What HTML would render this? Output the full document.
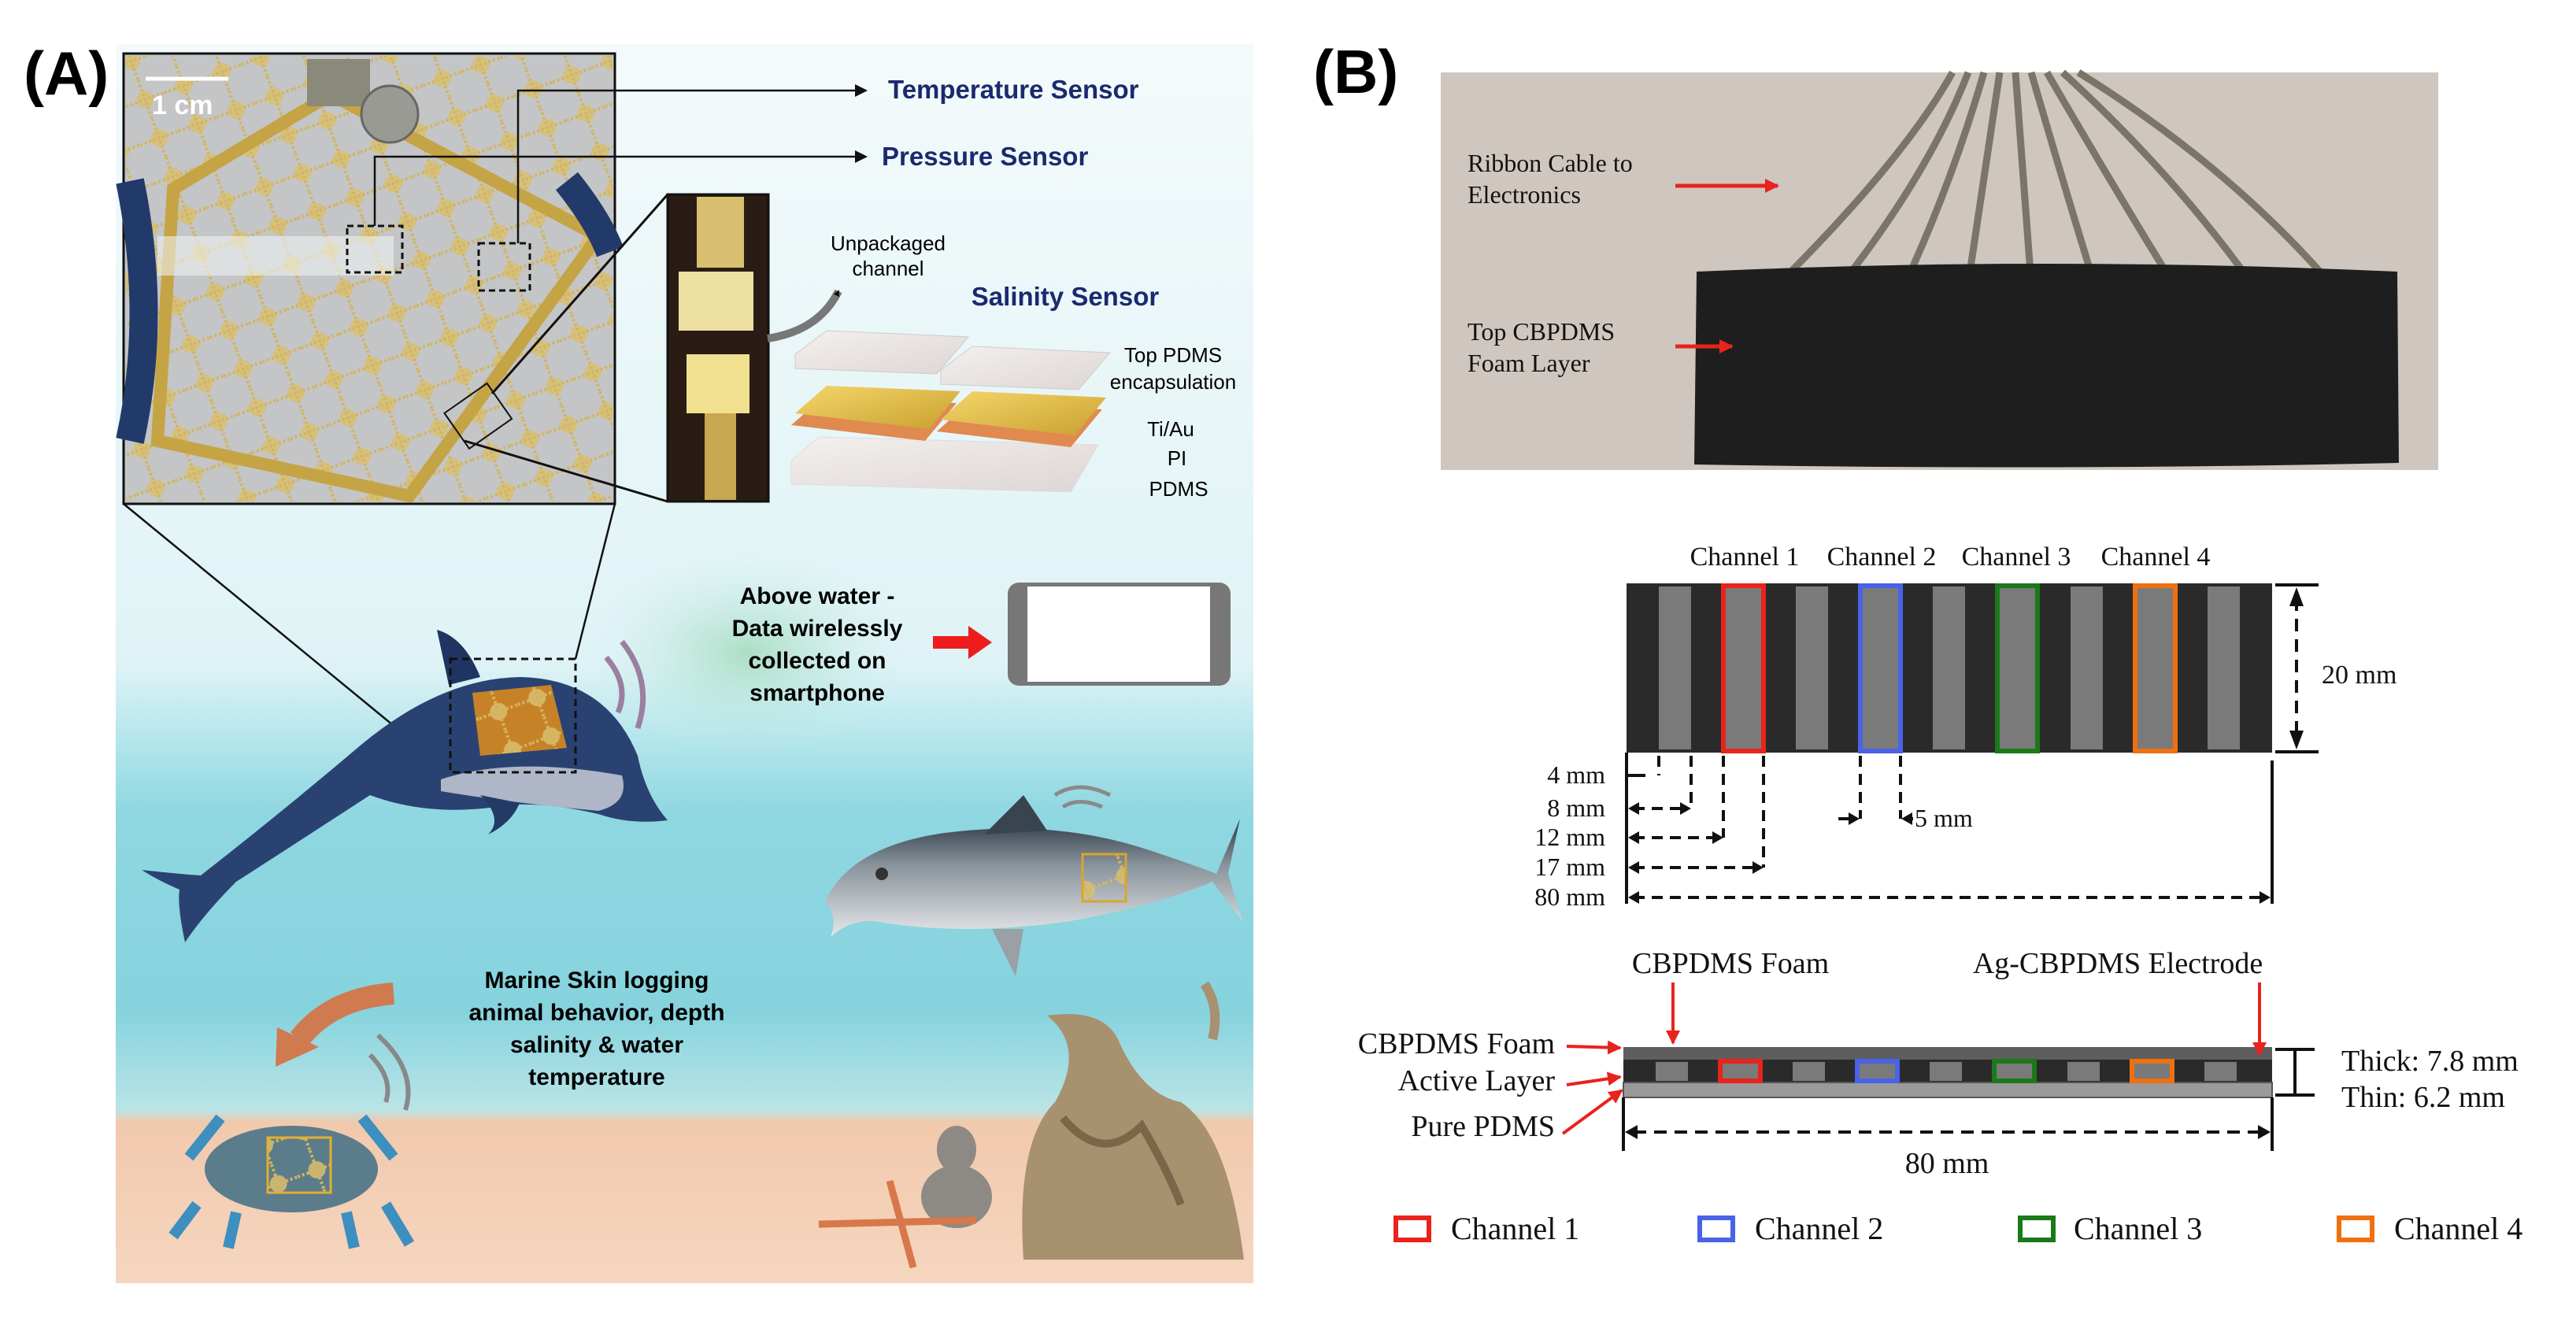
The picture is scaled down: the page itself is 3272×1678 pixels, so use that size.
<!DOCTYPE html>
<html><head><meta charset="utf-8"><style>
html,body{margin:0;padding:0;background:#fff}
svg{display:block}
.s{font-family:"Liberation Serif",serif;fill:#111}
.a{font-family:"Liberation Sans",sans-serif}
</style></head><body>
<svg width="3272" height="1678" viewBox="0 0 3272 1678" xmlns="http://www.w3.org/2000/svg">
<defs>
<linearGradient id="sky" x1="0" y1="0" x2="0" y2="1">
<stop offset="0" stop-color="#f4fafb"/><stop offset="0.5" stop-color="#dff3f6"/><stop offset="0.56" stop-color="#b5e6ec"/><stop offset="0.62" stop-color="#8fd7e1"/><stop offset="0.78" stop-color="#86d3de"/><stop offset="0.86" stop-color="#b9e4e6"/><stop offset="0.87" stop-color="#f1c9ad"/><stop offset="1" stop-color="#f6d6c0"/>
</linearGradient>
<linearGradient id="pdms" x1="0" y1="0" x2="1" y2="1"><stop offset="0" stop-color="#f4f0ee"/><stop offset="1" stop-color="#dcd6d4"/></linearGradient>
<linearGradient id="gold" x1="0" y1="0" x2="1" y2="1"><stop offset="0" stop-color="#f5d66a"/><stop offset="1" stop-color="#c9a030"/></linearGradient>
<linearGradient id="tuna" x1="0" y1="0" x2="0" y2="1"><stop offset="0" stop-color="#2d3844"/><stop offset="0.4" stop-color="#8a949c"/><stop offset="1" stop-color="#e6e8ea"/></linearGradient>
<pattern id="grid" width="52" height="52" patternUnits="userSpaceOnUse" patternTransform="rotate(-20)">
<rect width="52" height="52" fill="none"/><circle cx="26" cy="26" r="11" fill="#d9c070" opacity="0.85"/><path d="M0 26H52M26 0V52" stroke="#d2b560" stroke-width="4" stroke-dasharray="3 3"/></pattern>
<radialGradient id="glow" cx="0.5" cy="0.5" r="0.5"><stop offset="0" stop-color="#9ed9b8" stop-opacity="0.8"/><stop offset="1" stop-color="#c8ecea" stop-opacity="0"/></radialGradient>
<marker id="ah" markerWidth="8" markerHeight="8" refX="6" refY="4" orient="auto" markerUnits="userSpaceOnUse"><path d="M0 0L8 4L0 8Z" fill="#111"/></marker>
<marker id="ahb" markerWidth="16" markerHeight="16" refX="14" refY="8" orient="auto" markerUnits="userSpaceOnUse"><path d="M0 0L16 8L0 16Z" fill="#111"/></marker>
<marker id="ahr" markerWidth="18" markerHeight="18" refX="16" refY="9" orient="auto" markerUnits="userSpaceOnUse"><path d="M0 0L18 9L0 18Z" fill="#e8231c"/></marker>
</defs>

<!-- PANEL A -->
<rect x="147" y="56" width="1445" height="1574" fill="url(#sky)"/>
<ellipse cx="950" cy="830" rx="200" ry="130" fill="url(#glow)"/>
<text x="30" y="120" class="a" font-size="78" font-weight="bold">(A)</text>

<!-- photo inset -->
<rect x="157" y="68" width="624" height="572" fill="#c4c5c7" stroke="#111" stroke-width="3"/>
<rect x="160" y="71" width="618" height="566" fill="url(#grid)"/>
<path d="M220 240 L420 120 L760 300 L520 630 L200 560 Z" fill="none" stroke="#c5a445" stroke-width="16"/>
<path d="M165 230 Q200 400 165 560" stroke="#223a6a" stroke-width="36" fill="none"/>
<path d="M720 230 Q760 280 775 320" stroke="#223a6a" stroke-width="36" fill="none"/>
<rect x="390" y="75" width="80" height="60" fill="#8a8a7a"/><circle cx="495" cy="145" r="36" fill="#9a9a95" stroke="#666" stroke-width="3"/>
<rect x="200" y="300" width="300" height="50" fill="#eef2f2" opacity="0.6"/>
<line x1="185" y1="100" x2="290" y2="100" stroke="#fff" stroke-width="5"/>
<text x="193" y="145" class="a" font-size="34" font-weight="bold" fill="#fff">1 cm</text>
<rect x="441" y="287" width="70" height="59" fill="none" stroke="#111" stroke-width="3" stroke-dasharray="8 5"/>
<rect x="608" y="309" width="65" height="60" fill="none" stroke="#111" stroke-width="3" stroke-dasharray="8 5"/>
<rect x="574" y="501" width="66" height="55" fill="none" stroke="#111" stroke-width="2" transform="rotate(-35 607 528)"/>
<polyline points="476,287 476,199 1100,199" fill="none" stroke="#111" stroke-width="2.5" marker-end="url(#ahb)"/>
<polyline points="658,309 658,115 1100,115" fill="none" stroke="#111" stroke-width="2.5" marker-end="url(#ahb)"/>
<text x="1128" y="125" class="a" font-size="33" font-weight="bold" fill="#1a2a6e">Temperature Sensor</text>
<text x="1120" y="210" class="a" font-size="33" font-weight="bold" fill="#1a2a6e">Pressure Sensor</text>

<!-- strip inset -->
<line x1="590" y1="560" x2="848" y2="637" stroke="#111" stroke-width="3"/>
<line x1="625" y1="500" x2="848" y2="247" stroke="#111" stroke-width="3"/>
<rect x="848" y="247" width="128" height="390" fill="#2a1c14" stroke="#111" stroke-width="3"/>
<rect x="885" y="250" width="60" height="90" fill="#d8c070"/>
<rect x="862" y="345" width="95" height="75" fill="#ede0a0"/>
<rect x="872" y="450" width="80" height="75" fill="#f0e090"/>
<rect x="895" y="525" width="40" height="110" fill="#c8a850"/>
<path d="M975 430 Q1040 420 1065 370" stroke="#777" stroke-width="10" fill="none" marker-end="url(#ah)"/>
<text x="1128" y="318" class="a" font-size="26" text-anchor="middle">Unpackaged</text>
<text x="1128" y="350" class="a" font-size="26" text-anchor="middle">channel</text>
<text x="1353" y="388" class="a" font-size="33" font-weight="bold" fill="#1a2a6e" text-anchor="middle">Salinity Sensor</text>
<path d="M1005 585 L1040 555 L1395 565 L1360 625 L1005 615 Z" fill="url(#pdms)" stroke="#ddd"/>
<path d="M1005 540 L1045 505 L1215 512 L1175 560 Z" fill="#e08a50"/>
<path d="M1010 525 L1050 490 L1220 497 L1180 545 Z" fill="url(#gold)"/>
<path d="M1190 548 L1230 512 L1400 520 L1360 568 Z" fill="#e08a50"/>
<path d="M1195 533 L1235 497 L1405 505 L1365 553 Z" fill="url(#gold)"/>
<path d="M1010 450 L1050 420 L1230 428 L1190 475 L1010 468 Z" fill="url(#pdms)" stroke="#ccc"/>
<path d="M1195 470 L1235 440 L1410 448 L1370 495 L1195 488 Z" fill="url(#pdms)" stroke="#ccc"/>
<text x="1490" y="460" class="a" font-size="26" text-anchor="middle">Top PDMS</text>
<text x="1490" y="494" class="a" font-size="26" text-anchor="middle">encapsulation</text>
<text x="1487" y="554" class="a" font-size="26" text-anchor="middle">Ti/Au</text>
<text x="1495" y="591" class="a" font-size="26" text-anchor="middle">PI</text>
<text x="1497" y="630" class="a" font-size="26" text-anchor="middle">PDMS</text>

<!-- dolphin -->
<line x1="157" y1="640" x2="572" y2="981" stroke="#111" stroke-width="2.5"/>
<line x1="781" y1="640" x2="731" y2="837" stroke="#111" stroke-width="2.5"/>
<path d="M555 800 Q590 810 610 860 L570 870 Z" fill="#1f3460"/>
<path d="M180 1105 Q225 1110 255 1112 Q360 1030 460 945 Q560 862 660 860 Q770 862 810 960 Q820 1010 848 1042 Q800 1048 760 1034 Q700 1020 650 1022 Q550 1040 470 1010 Q370 1075 300 1120 Q260 1160 235 1197 Q225 1150 228 1130 Q200 1118 180 1105 Z" fill="#2a4272"/>
<path d="M560 990 Q650 960 790 985 Q800 1020 760 1030 Q650 1020 560 1005 Z" fill="#aeb6c8"/>
<path d="M610 1010 Q640 1040 620 1060 Q650 1045 660 1020 Z" fill="#233a66"/>
<path d="M600 880 L700 870 L720 950 L610 960 Z" fill="#d88a20" opacity="0.9"/>
<path d="M600 880 L700 870 L720 950 L610 960 Z" fill="url(#grid)"/>
<rect x="572" y="837" width="159" height="144" fill="none" stroke="#111" stroke-width="3" stroke-dasharray="9 6"/>
<path d="M770 835 Q800 870 785 905 M790 815 Q830 865 810 925" stroke="#9b7fa0" stroke-width="7" fill="none"/>

<g class="a" font-size="30" font-weight="bold" text-anchor="middle">
<text x="1038" y="767">Above water -</text><text x="1038" y="808">Data wirelessly</text><text x="1038" y="849">collected on</text><text x="1038" y="890">smartphone</text>
<text x="758" y="1255">Marine Skin logging</text><text x="758" y="1296">animal behavior, depth</text><text x="758" y="1337">salinity &amp; water</text><text x="758" y="1378">temperature</text>
</g>
<path d="M1185 808 L1230 808 L1230 795 L1260 816 L1230 837 L1230 824 L1185 824 Z" fill="#ee1c1c"/>
<rect x="1280" y="740" width="283" height="131" rx="14" fill="#777"/>
<rect x="1305" y="745" width="232" height="121" fill="#fff"/>

<!-- tuna -->
<path d="M1048 1145 Q1080 1075 1200 1058 Q1340 1040 1460 1080 Q1520 1100 1545 1110 L1575 1040 L1560 1110 L1578 1170 L1540 1120 Q1470 1150 1360 1170 Q1220 1190 1110 1170 Q1080 1168 1055 1190 Q1065 1165 1048 1145 Z" fill="url(#tuna)"/>
<path d="M1250 1060 L1300 1010 L1330 1055 Z" fill="#3a444e"/>
<path d="M1260 1180 L1290 1240 L1300 1180 Z" fill="#9aa0a6"/>
<circle cx="1120" cy="1110" r="8" fill="#333"/>
<rect x="1375" y="1085" width="55" height="60" fill="url(#grid)" stroke="#d9a530" stroke-width="3"/>
<path d="M1340 1010 Q1370 990 1410 1010 M1350 1025 Q1370 1012 1400 1025" stroke="#8a8a8a" stroke-width="5" fill="none"/>

<!-- crab -->
<path d="M500 1262 Q420 1268 380 1320" stroke="#d07a50" stroke-width="28" fill="none"/>
<path d="M350 1355 L352 1305 L405 1330 Z" fill="#d07a50"/>
<ellipse cx="370" cy="1485" rx="110" ry="55" fill="#5b7c8a"/>
<path d="M240 1470 L280 1420 M500 1470 L460 1420 M250 1530 L220 1570 M490 1530 L520 1580 M300 1540 L290 1585 M440 1540 L450 1585" stroke="#3d8fbf" stroke-width="14"/>
<rect x="340" y="1445" width="80" height="70" fill="url(#grid)" stroke="#e0b030" stroke-width="3"/>
<path d="M470 1340 Q500 1370 490 1400 M480 1315 Q530 1360 515 1410" stroke="#888" stroke-width="6" fill="none"/>

<!-- coral / rocks -->
<path d="M1300 1600 Q1290 1450 1340 1400 Q1380 1330 1330 1290 Q1400 1280 1420 1320 Q1450 1390 1500 1400 Q1560 1440 1580 1600 Z" fill="#a8916e"/>
<path d="M1350 1420 Q1400 1480 1450 1430 Q1480 1480 1500 1530" stroke="#7a6648" stroke-width="10" fill="none"/>
<ellipse cx="1215" cy="1460" rx="25" ry="30" fill="#8d8a86"/><ellipse cx="1215" cy="1520" rx="45" ry="40" fill="#8d8a86"/>
<path d="M1040 1555 L1240 1550 M1130 1500 L1160 1610" stroke="#d8774a" stroke-width="9"/>
<path d="M1530 1250 Q1550 1280 1540 1320" stroke="#a89070" stroke-width="12" fill="none"/>

<!-- PANEL B -->
<text x="1668" y="118" class="a" font-size="78" font-weight="bold">(B)</text>
<rect x="1830" y="92" width="1267" height="505" fill="#cfc7bf"/>
<g stroke="#7a7568" stroke-width="9" fill="none">
<path d="M2480 92 Q2420 200 2260 360"/><path d="M2500 92 Q2450 220 2340 360"/><path d="M2520 92 Q2480 230 2420 360"/><path d="M2540 92 Q2520 230 2500 360"/>
<path d="M2560 92 Q2570 230 2580 360"/><path d="M2580 92 Q2620 230 2660 360"/><path d="M2600 92 Q2680 230 2760 360"/><path d="M2620 92 Q2760 220 2860 360"/><path d="M2640 92 Q2830 210 2960 360"/>
</g>
<path d="M2155 345 Q2600 325 3045 345 L3047 588 Q2600 598 2152 590 Z" fill="#1e1e1e"/>
<g class="s" font-size="32">
<text x="1864" y="218">Ribbon Cable to</text><text x="1864" y="258">Electronics</text>
<text x="1864" y="432">Top CBPDMS</text><text x="1864" y="472">Foam Layer</text>
</g>
<line x1="2128" y1="236" x2="2258" y2="236" stroke="#e8231c" stroke-width="5" marker-end="url(#ahr)"/>
<line x1="2128" y1="440" x2="2200" y2="440" stroke="#e8231c" stroke-width="5" marker-end="url(#ahr)"/>

<g class="s" font-size="34" text-anchor="middle">
<text x="2216" y="718">Channel 1</text><text x="2390" y="718">Channel 2</text><text x="2561" y="718">Channel 3</text><text x="2738" y="718">Channel 4</text>
</g>
<rect x="2066" y="741" width="820" height="215" fill="#2a2a2a"/>
<g fill="#7a7a7a">
<rect x="2107" y="745" width="41" height="207"/><rect x="2281" y="745" width="41" height="207"/><rect x="2455" y="745" width="41" height="207"/><rect x="2630" y="745" width="41" height="207"/><rect x="2804" y="745" width="41" height="207"/>
<rect x="2189" y="745" width="51" height="207"/><rect x="2363" y="745" width="51" height="207"/><rect x="2537" y="745" width="51" height="207"/><rect x="2712" y="745" width="51" height="207"/>
</g>
<g fill="none" stroke-width="6">
<rect x="2189" y="744" width="51" height="210" stroke="#e8231c"/><rect x="2363" y="744" width="51" height="210" stroke="#4a62e8"/><rect x="2537" y="744" width="51" height="210" stroke="#1a7a1a"/><rect x="2712" y="744" width="51" height="210" stroke="#f07010"/>
</g>
<g stroke="#111" stroke-width="4">
<line x1="2890" y1="743" x2="2945" y2="743"/><line x1="2890" y1="955" x2="2945" y2="955"/>
<line x1="2917" y1="760" x2="2917" y2="940" stroke-dasharray="16 10"/>
</g>
<path d="M2917 746 L2908 770 L2926 770 Z M2917 952 L2908 928 L2926 928 Z" fill="#111"/>
<text x="2949" y="868" class="s" font-size="34">20 mm</text>

<g class="s" font-size="32" text-anchor="end">
<text x="2039" y="995">4 mm</text><text x="2039" y="1037">8 mm</text><text x="2039" y="1074">12 mm</text><text x="2039" y="1112">17 mm</text><text x="2039" y="1150">80 mm</text>
</g>
<text x="2432" y="1050" class="s" font-size="32">5 mm</text>
<g stroke="#111" stroke-width="4" fill="none">
<line x1="2066" y1="956" x2="2066" y2="1148"/><line x1="2886" y1="966" x2="2886" y2="1148"/>
<line x1="2066" y1="985" x2="2090" y2="985"/>
<g stroke-dasharray="14 9">
<line x1="2107" y1="960" x2="2107" y2="985"/><line x1="2148" y1="960" x2="2148" y2="1027"/><line x1="2189" y1="960" x2="2189" y2="1064"/><line x1="2240" y1="960" x2="2240" y2="1102"/>
<line x1="2363" y1="960" x2="2363" y2="1040"/><line x1="2414" y1="960" x2="2414" y2="1040"/>
<line x1="2075" y1="1027" x2="2140" y2="1027"/><line x1="2075" y1="1064" x2="2180" y2="1064"/><line x1="2075" y1="1102" x2="2230" y2="1102"/><line x1="2075" y1="1140" x2="2876" y2="1140"/>
</g>
<line x1="2335" y1="1040" x2="2358" y2="1040"/><line x1="2420" y1="1040" x2="2430" y2="1040"/>
</g>
<path d="M2068 1027l14 -8v16z M2148 1027l-14 -8v16z M2068 1064l14 -8v16z M2189 1064l-14 -8v16z M2068 1102l14 -8v16z M2240 1102l-14 -8v16z M2068 1140l14 -8v16z M2884 1140l-14 -8v16z M2362 1040l-14 -8v16z M2415 1040l14 -8v16z" fill="#111"/>

<g class="s" font-size="38">
<text x="2198" y="1236" text-anchor="middle">CBPDMS Foam</text><text x="2690" y="1236" text-anchor="middle">Ag-CBPDMS Electrode</text>
<text x="1975" y="1338" text-anchor="end">CBPDMS Foam</text><text x="1975" y="1385" text-anchor="end">Active Layer</text><text x="1975" y="1443" text-anchor="end">Pure PDMS</text>
<text x="2974" y="1360">Thick: 7.8 mm</text><text x="2974" y="1406">Thin: 6.2 mm</text>
<text x="2473" y="1490" text-anchor="middle">80 mm</text>
</g>
<rect x="2062" y="1330" width="824" height="16" fill="#5e5e5e"/>
<rect x="2062" y="1346" width="824" height="29" fill="#2a2a2a"/>
<rect x="2062" y="1375" width="824" height="19" fill="#9a9a9a" stroke="#555" stroke-width="2"/>
<g fill="#7a7a7a">
<rect x="2103" y="1349" width="41" height="24"/><rect x="2277" y="1349" width="41" height="24"/><rect x="2451" y="1349" width="41" height="24"/><rect x="2626" y="1349" width="41" height="24"/><rect x="2800" y="1349" width="41" height="24"/>
</g>
<g stroke-width="6">
<rect x="2185" y="1348" width="51" height="25" fill="#7a7a7a" stroke="#e8231c"/><rect x="2359" y="1348" width="51" height="25" fill="#7a7a7a" stroke="#4a62e8"/><rect x="2533" y="1348" width="51" height="25" fill="#7a7a7a" stroke="#1a7a1a"/><rect x="2708" y="1348" width="51" height="25" fill="#7a7a7a" stroke="#f07010"/>
</g>
<g stroke="#e8231c" stroke-width="4">
<line x1="2125" y1="1248" x2="2125" y2="1325" marker-end="url(#ahr)"/><line x1="2870" y1="1248" x2="2870" y2="1340" marker-end="url(#ahr)"/>
<line x1="1990" y1="1329" x2="2058" y2="1331" marker-end="url(#ahr)"/><line x1="1990" y1="1378" x2="2058" y2="1368" marker-end="url(#ahr)"/><line x1="1985" y1="1440" x2="2060" y2="1385" marker-end="url(#ahr)"/>
</g>
<g stroke="#111" stroke-width="4">
<line x1="2890" y1="1333" x2="2940" y2="1333"/><line x1="2890" y1="1391" x2="2940" y2="1391"/><line x1="2915" y1="1333" x2="2915" y2="1391"/>
<line x1="2062" y1="1394" x2="2062" y2="1462"/><line x1="2886" y1="1394" x2="2886" y2="1462"/>
<line x1="2075" y1="1438" x2="2875" y2="1438" stroke-dasharray="16 10"/>
</g>
<path d="M2064 1438l16 -9v18z M2884 1438l-16 -9v18z" fill="#111"/>

<g fill="none" stroke-width="6">
<rect x="1773" y="1547" width="42" height="28" stroke="#e8231c"/><rect x="2159" y="1547" width="42" height="28" stroke="#4a62e8"/><rect x="2566" y="1547" width="42" height="28" stroke="#1a7a1a"/><rect x="2971" y="1547" width="42" height="28" stroke="#f07010"/>
</g>
<g class="s" font-size="40">
<text x="1843" y="1574">Channel 1</text><text x="2229" y="1574">Channel 2</text><text x="2634" y="1574">Channel 3</text><text x="3041" y="1574">Channel 4</text>
</g>
</svg>
</body></html>
